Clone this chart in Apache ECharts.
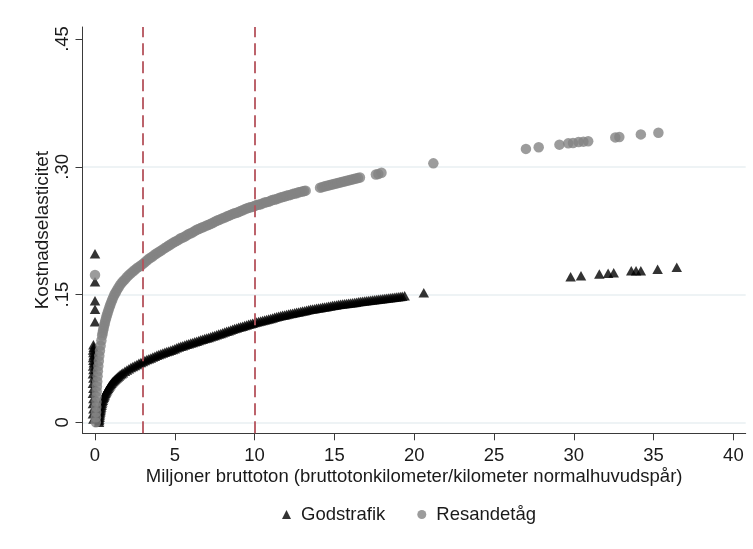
<!DOCTYPE html>
<html>
<head>
<meta charset="utf-8">
<script src="https://cdn.jsdelivr.net/npm/echarts@6/dist/echarts.min.js"></script>
<style>
  html, body { margin: 0; padding: 0; background: #fff; }
  #chart { width: 753px; height: 549px; }
</style>
</head>
<body>
<div id="chart"></div>
<script>
// Cost elasticity by traffic volume (million gross tonnes per km of main track)

// Godstrafik (freight) observations
const freightX = [
  0.00, 0.00, 0.00, 0.00, 0.00,
  -0.10, -0.08, -0.12, -0.10, -0.08, -0.12, -0.10, -0.08, -0.12, -0.10, -0.13, -0.10, -0.13, -0.10, -0.13, -0.10, -0.13, -0.10, -0.13, -0.10,
  0.250, 0.260, 0.270, 0.285, 0.300, 0.315, 0.330, 0.350, 0.370, 0.390, 0.410, 0.435, 0.460, 0.490, 0.520, 0.550,
  0.580, 0.615, 0.650, 0.690, 0.730, 0.775, 0.820, 0.870, 0.920, 0.975, 1.030, 1.090, 1.150, 1.215, 1.280, 1.350,
  1.420, 1.495, 1.570, 1.660, 1.750, 1.875, 2.000, 2.125, 2.250, 2.375, 2.500, 2.625, 2.750, 2.875,
  3.000, 3.125, 3.250, 3.375, 3.500, 3.625, 3.750, 3.875, 4.000, 4.125, 4.250, 4.375, 4.500, 4.625, 4.750, 4.875,
  5.000, 5.125, 5.250, 5.375, 5.500, 5.625, 5.750, 5.875, 6.000, 6.125, 6.250, 6.375, 6.500, 6.625, 6.750, 6.875,
  7.000, 7.125, 7.250, 7.375, 7.500, 7.625, 7.750, 7.875, 8.000, 8.125, 8.250, 8.375, 8.500, 8.625, 8.750, 8.875,
  9.000, 9.125, 9.250, 9.375, 9.500, 9.625, 9.750, 9.875, 10.000, 10.125, 10.250, 10.375, 10.500, 10.625, 10.750, 10.875,
  11.000, 11.125, 11.250, 11.375, 11.500, 11.625, 11.750, 11.875, 12.000, 12.125, 12.250, 12.375, 12.500, 12.625, 12.750, 12.875,
  13.000, 13.125, 13.250, 13.375, 13.500, 13.625, 13.750, 13.875, 14.000, 14.125, 14.250, 14.375, 14.500, 14.625, 14.750, 14.875,
  15.000, 15.125, 15.250, 15.375, 15.500, 15.625, 15.750, 15.875, 16.000, 16.125, 16.250, 16.375, 16.500, 16.625, 16.750, 16.875,
  17.000, 17.125, 17.250, 17.375, 17.500, 17.625, 17.750, 17.875, 18.000, 18.125, 18.250, 18.375, 18.500, 18.625, 18.750, 18.875,
  19.000, 19.125, 19.250, 19.400,
  20.60,
  29.80, 30.45, 31.60, 32.15, 32.50, 33.60, 33.90, 34.20, 35.25, 36.45
];
const freightY = [
  0.198, 0.165, 0.1427, 0.1326, 0.118,
  0.091, 0.088, 0.085, 0.082, 0.079, 0.076, 0.073, 0.070, 0.066, 0.062, 0.057, 0.052, 0.046, 0.040, 0.034, 0.028, 0.022, 0.016, 0.010, 0.004,
  0.000, 0.002, 0.004, 0.006, 0.008, 0.010, 0.012, 0.014, 0.016, 0.018, 0.020, 0.022, 0.024, 0.026, 0.028, 0.0295,
  0.031, 0.0325, 0.034, 0.0355, 0.037, 0.0385, 0.040, 0.0415, 0.043, 0.0445, 0.046, 0.0473, 0.0485, 0.0497, 0.0509, 0.0521,
  0.0533, 0.0545, 0.0557, 0.057, 0.0583, 0.060, 0.0615, 0.063, 0.0643, 0.0656, 0.0668, 0.068, 0.0692, 0.0703,
  0.0714, 0.0725, 0.0736, 0.0746, 0.0756, 0.0766, 0.0776, 0.0786, 0.0795, 0.0804, 0.0813, 0.0822, 0.083, 0.0838, 0.0846, 0.0854,
  0.0865, 0.0875, 0.0885, 0.0893, 0.090, 0.0908, 0.0915, 0.0923, 0.093, 0.0938, 0.0945, 0.0953, 0.096, 0.0968, 0.0975, 0.0983,
  0.099, 0.0997, 0.1004, 0.1012, 0.102, 0.1028, 0.1036, 0.1044, 0.1052, 0.106, 0.1068, 0.1076, 0.1084, 0.1092, 0.110, 0.1108,
  0.1115, 0.1122, 0.1129, 0.1136, 0.1143, 0.115, 0.1157, 0.1164, 0.1171, 0.1178, 0.1184, 0.119, 0.1196, 0.1202, 0.1208, 0.1214,
  0.122, 0.1226, 0.1232, 0.1238, 0.1244, 0.125, 0.1256, 0.1261, 0.1266, 0.1271, 0.1276, 0.1281, 0.1286, 0.1291, 0.1296, 0.1301,
  0.1306, 0.1311, 0.1316, 0.1321, 0.1326, 0.133, 0.1334, 0.1338, 0.1342, 0.1346, 0.135, 0.1354, 0.1358, 0.1362, 0.1366, 0.137,
  0.1374, 0.1378, 0.1382, 0.1386, 0.139, 0.1393, 0.1396, 0.1399, 0.1402, 0.1405, 0.1408, 0.1411, 0.1414, 0.1417, 0.142, 0.1423,
  0.1426, 0.1429, 0.1432, 0.1435, 0.1438, 0.1441, 0.1444, 0.1447, 0.145, 0.1453, 0.1456, 0.1459, 0.1462, 0.1465, 0.1468, 0.1471,
  0.1474, 0.1477, 0.148, 0.1485,
  0.152,
  0.171, 0.172, 0.174, 0.175, 0.1756, 0.178, 0.178, 0.178, 0.1796, 0.182
];

// Resandetåg (passenger trains) observations
const passengerX = [
  0.00,
  0.05, 0.06, 0.07, 0.08, 0.09, 0.10, 0.11, 0.12, 0.14, 0.16, 0.18, 0.21, 0.24, 0.27, 0.31, 0.35, 0.40,
  0.450, 0.480, 0.510, 0.545, 0.580, 0.620, 0.660, 0.705, 0.750, 0.800, 0.850, 0.905, 0.960, 1.020, 1.080, 1.150,
  1.220, 1.295, 1.370, 1.465, 1.560, 1.665, 1.770, 1.885,
  2.000, 2.125, 2.250, 2.375, 2.500, 2.625, 2.750, 2.875, 3.000, 3.125, 3.250, 3.375, 3.500, 3.625, 3.750, 3.875,
  4.000, 4.125, 4.250, 4.375, 4.500, 4.625, 4.750, 4.875, 5.000, 5.125, 5.250, 5.375, 5.500, 5.625, 5.750, 5.875,
  6.000, 6.125, 6.250, 6.375, 6.500, 6.625, 6.750, 6.875, 7.000, 7.125, 7.250, 7.375, 7.500, 7.625, 7.750, 7.875,
  8.000, 8.125, 8.250, 8.375, 8.500, 8.625, 8.750, 8.875, 9.000, 9.125, 9.250, 9.375, 9.500, 9.625, 9.750, 9.875,
  10.000, 10.125, 10.250, 10.375, 10.500, 10.625, 10.750, 10.875, 11.000, 11.125, 11.250, 11.375, 11.500, 11.625, 11.750, 11.875,
  12.000, 12.125, 12.250, 12.375, 12.500, 12.625, 12.750, 12.875, 13.000, 13.100, 13.200,
  14.100, 14.225, 14.350, 14.475, 14.600, 14.725, 14.850, 14.975, 15.100, 15.225, 15.350, 15.475, 15.600, 15.725, 15.850, 15.975,
  16.100, 16.225, 16.350, 16.475, 16.600,
  17.60, 17.75, 17.95,
  21.20,
  27.00, 27.80, 29.10, 29.65, 29.95, 30.30, 30.60, 30.90, 32.60, 32.85, 34.20, 35.30
];
const passengerY = [
  0.173,
  0.000, 0.006, 0.012, 0.018, 0.024, 0.030, 0.036, 0.042, 0.048, 0.054, 0.060, 0.066, 0.072, 0.078, 0.084, 0.090, 0.096,
  0.102, 0.105, 0.108, 0.111, 0.114, 0.117, 0.120, 0.123, 0.126, 0.129, 0.132, 0.135, 0.138, 0.141, 0.144, 0.147,
  0.150, 0.1525, 0.155, 0.158, 0.161, 0.1635, 0.166, 0.168,
  0.1705, 0.173, 0.175, 0.177, 0.179, 0.181, 0.1825, 0.184, 0.186, 0.188, 0.190, 0.192, 0.1935, 0.195, 0.197, 0.1985,
  0.200, 0.2015, 0.203, 0.2045, 0.206, 0.2075, 0.209, 0.2105, 0.212, 0.213, 0.2145, 0.216, 0.217, 0.218, 0.2195, 0.221,
  0.222, 0.223, 0.2245, 0.226, 0.227, 0.228, 0.229, 0.230, 0.231, 0.232, 0.233, 0.234, 0.2355, 0.2365, 0.2375, 0.2385,
  0.2395, 0.2405, 0.2415, 0.2425, 0.2435, 0.2445, 0.2455, 0.246, 0.247, 0.248, 0.249, 0.250, 0.251, 0.252, 0.2525, 0.253,
  0.254, 0.255, 0.2555, 0.256, 0.257, 0.258, 0.2585, 0.259, 0.260, 0.261, 0.2615, 0.262, 0.263, 0.264, 0.2645, 0.265,
  0.266, 0.2665, 0.267, 0.268, 0.2685, 0.269, 0.270, 0.2705, 0.271, 0.2715, 0.272,
  0.2755, 0.2761, 0.2767, 0.2773, 0.2779, 0.2785, 0.2791, 0.2797, 0.2803, 0.2809, 0.2815, 0.2821, 0.2827, 0.2833, 0.2839, 0.2845,
  0.2851, 0.2857, 0.2863, 0.2869, 0.2875,
  0.291, 0.2915, 0.293,
  0.304,
  0.321, 0.323, 0.326, 0.3275, 0.328, 0.329, 0.3295, 0.330, 0.3345, 0.335, 0.338, 0.340
];

// Axis ticks and reference thresholds
const xTicks = [0, 5, 10, 15, 20, 25, 30, 35, 40];
const yTicks = [0, 0.15, 0.30, 0.45];
const thresholds = [3, 10];

const pairs = (xs, ys) => xs.map((x, i) => [x, ys[i]]);
const yFmt = v => (v === 0 ? '0' : ('.' + Math.round(v * 100).toString().padStart(2, '0')));

const FONT = 'Liberation Sans, Arial, Helvetica, sans-serif';
const TXT = '#1a1a1a';
const AXIS = '#3a3a3a';

const chart = echarts.init(document.getElementById('chart'), null, { renderer: 'canvas' });

chart.setOption({
  backgroundColor: '#ffffff',
  animation: false,
  textStyle: { fontFamily: FONT },
  grid: [
    { left: 82.5, right: 7.3, top: 27, bottom: 115.7 },
    { left: 82.5, right: 7.3, top: 39, bottom: 126.7 }
  ],
  legend: {
    data: [
      { name: 'Godstrafik', icon: 'triangle' },
      { name: 'Resandetåg', icon: 'circle' }
    ],
    left: 277,
    top: 500,
    itemWidth: 9,
    itemHeight: 9,
    itemGap: 32,
    textStyle: { fontSize: 18.5, color: TXT, fontFamily: FONT, padding: [0, 0, 0, 5] }
  },
  xAxis: [
    {
      type: 'value',
      gridIndex: 0,
      min: -0.783,
      max: 40.77,
      name: 'Miljoner bruttoton (bruttotonkilometer/kilometer normalhuvudspår)',
      nameLocation: 'middle',
      nameGap: 34,
      nameMoveOverlap: false,
      nameTextStyle: { fontSize: 18.5, color: TXT, fontFamily: FONT },
      axisLine: { show: true, onZero: false, lineStyle: { color: AXIS, width: 1 } },
      axisTick: { show: true, length: 7, customValues: xTicks, lineStyle: { color: AXIS } },
      axisLabel: { show: true, customValues: xTicks, margin: 13, fontSize: 18.5, color: TXT, fontFamily: FONT },
      splitLine: { show: false }
    },
    {
      type: 'value',
      gridIndex: 1,
      min: 0,
      max: 40,
      show: false
    }
  ],
  yAxis: [
    {
      type: 'value',
      gridIndex: 0,
      min: -0.0129,
      max: 0.4641,
      name: 'Kostnadselasticitet',
      nameLocation: 'middle',
      nameGap: 30,
      nameMoveOverlap: false,
      nameTextStyle: { fontSize: 19, color: TXT, fontFamily: FONT },
      axisLine: { show: true, onZero: false, lineStyle: { color: AXIS, width: 1 } },
      axisTick: { show: true, length: 7, customValues: yTicks, lineStyle: { color: AXIS } },
      axisLabel: { show: true, customValues: yTicks, rotate: 90, margin: 10, fontSize: 18.5, color: TXT, fontFamily: FONT, formatter: yFmt },
      splitLine: { show: false }
    },
    {
      type: 'value',
      gridIndex: 1,
      min: 0,
      max: 0.45,
      interval: 0.15,
      axisLine: { show: false },
      axisTick: { show: false },
      axisLabel: { show: false },
      splitLine: {
        show: true,
        lineStyle: { color: ['#e8eff2', '#e8eff2', '#e8eff2', 'rgba(0,0,0,0)'], width: 1.5 }
      }
    }
  ],
  series: [
    {
      name: 'thresholds',
      type: 'scatter',
      xAxisIndex: 0,
      yAxisIndex: 0,
      data: [],
      z: 1,
      silent: true,
      markLine: {
        silent: true,
        symbol: ['none', 'none'],
        label: { show: false },
        lineStyle: { color: '#b5535c', width: 1.8, type: [12, 6] },
        data: thresholds.map(v => ({ xAxis: v }))
      }
    },
    {
      name: 'Godstrafik',
      type: 'scatter',
      xAxisIndex: 0,
      yAxisIndex: 0,
      clip: false,
      symbol: 'triangle',
      symbolSize: [10.5, 9.5],
      itemStyle: { color: '#000000' },
      data: pairs(freightX, freightY),
      z: 2
    },
    {
      name: 'Resandetåg',
      type: 'scatter',
      xAxisIndex: 0,
      yAxisIndex: 0,
      clip: false,
      symbol: 'circle',
      symbolSize: 10.5,
      itemStyle: { color: '#838383' },
      data: pairs(passengerX, passengerY),
      z: 3
    }
  ]
});
</script>
</body>
</html>
